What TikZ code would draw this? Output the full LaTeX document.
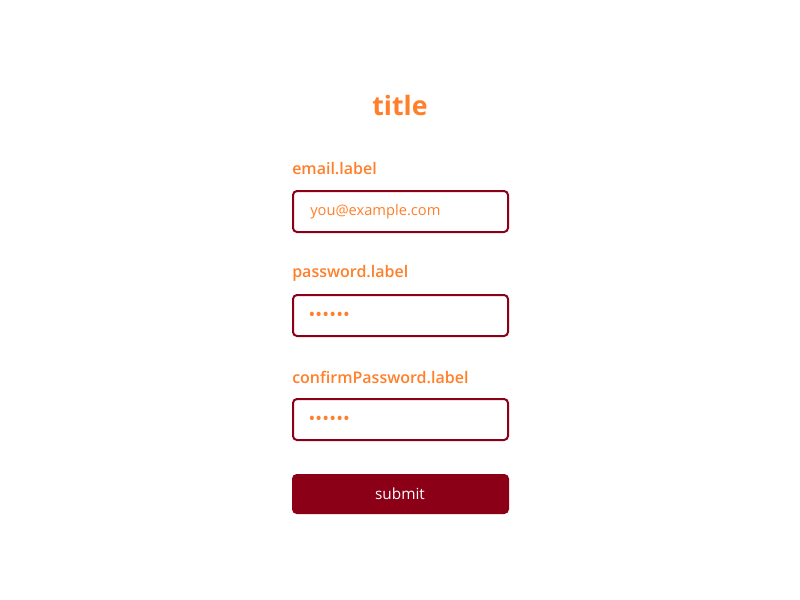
\documentclass[tikz,border=0pt]{standalone}
\usepackage{fontspec}
\setmainfont{Open Sans}
\IfFontExistsTF{Open Sans SemiBold}{\newfontfamily\semib{Open Sans SemiBold}}{%
  \IfFontExistsTF{Open Sans Semibold}{\newfontfamily\semib{Open Sans Semibold}}{\newcommand\semib{\bfseries}}}
\definecolor{accent}{HTML}{FF7F2A}
\definecolor{wine}{HTML}{8B0016}
\begin{document}
\begin{tikzpicture}[x=0.75pt,y=-0.75pt,
  field/.style={draw=wine,line width=1.5pt,rounded corners=3pt},
  flabel/.style={anchor=west,text=accent,font=\fontsize{12}{14}\selectfont\semib,inner sep=0pt},
  ph/.style={anchor=west,text=accent,font=\fontsize{11}{13}\selectfont,inner sep=0pt},
  dots/.style={anchor=west,text=accent,font=\fontsize{10.5}{12}\selectfont\bfseries\addfontfeature{LetterSpace=12},inner sep=0pt}]
\useasboundingbox[fill=white] (0,0) rectangle (800,600);
\node[text=accent,font=\fontsize{20}{24}\selectfont\bfseries] (title) at (400,105) {title};
\node[flabel] (l1) at (292,169) {email.label};
\draw[field] (293,191) rectangle (508,232);
\node[ph] (p1) at (310,212) {you@example.com};
\node[flabel] (l2) at (292,273) {password.label};
\draw[field] (293,295) rectangle (508,336);
\node[dots] (p2) at (309,316) {••••••};
\node[flabel] (l3) at (292,377) {confirmPassword.label};
\draw[field] (293,399) rectangle (508,440);
\node[dots] (p3) at (309,420) {••••••};
\fill[wine,rounded corners=3.5pt] (292,474) rectangle (509,514);
\node[text=white,font=\fontsize{11.5}{13}\selectfont] (sub) at (400,494) {submit};
\end{tikzpicture}
\end{document}
